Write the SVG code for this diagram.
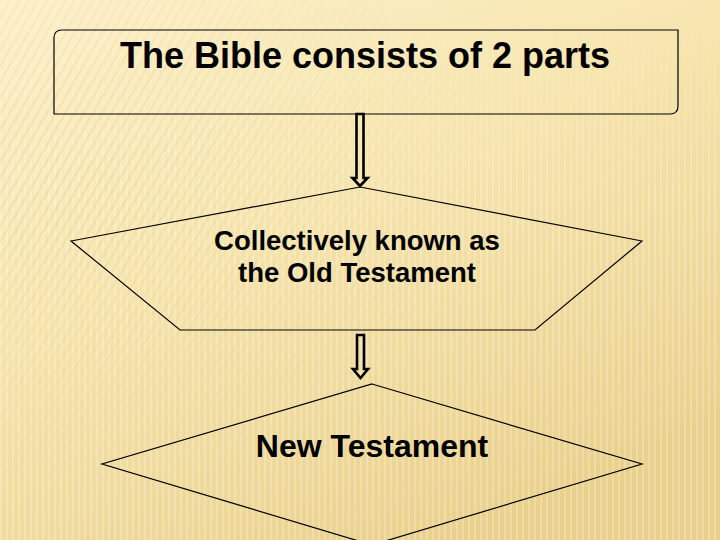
<svg xmlns="http://www.w3.org/2000/svg" width="720" height="540" viewBox="0 0 720 540">
<defs>
<linearGradient id="bg" x1="0" y1="0" x2="0.6" y2="1">
<stop offset="0" stop-color="#fdf1cc"/>
<stop offset="0.45" stop-color="#f7e6b0"/>
<stop offset="1" stop-color="#ead18e"/>
</linearGradient>
<pattern id="vs" width="6" height="10" patternUnits="userSpaceOnUse">
<rect x="0" y="0" width="2" height="10" fill="#ffffff" opacity="0.22"/>
</pattern>
<pattern id="ds" width="8" height="8" patternUnits="userSpaceOnUse" patternTransform="rotate(30)">
<rect x="0" y="0" width="2" height="8" fill="#e6cc86" opacity="0.4"/>
</pattern>
<linearGradient id="fadeV" x1="0" y1="0" x2="0" y2="1">
<stop offset="0" stop-color="#fff" stop-opacity="0"/>
<stop offset="0.35" stop-color="#fff" stop-opacity="1"/>
<stop offset="1" stop-color="#fff" stop-opacity="1"/>
</linearGradient>
<radialGradient id="fadeD" cx="0.1" cy="0.35" r="0.6">
<stop offset="0" stop-color="#fff" stop-opacity="1"/>
<stop offset="1" stop-color="#fff" stop-opacity="0"/>
</radialGradient>
<mask id="mV"><rect width="720" height="540" fill="url(#fadeV)"/></mask>
<mask id="mD"><rect width="720" height="540" fill="url(#fadeD)"/></mask>
<style>
.shape{fill:none;stroke:#000;stroke-width:1.2}
.arrow{fill:none;stroke:#000;stroke-width:2.6;stroke-linejoin:miter}
.t{font-family:"Liberation Sans",Arial,sans-serif;font-weight:bold;fill:#000;text-anchor:middle}
</style>
</defs>
<rect width="720" height="540" fill="url(#bg)"/>
<rect width="720" height="540" fill="url(#vs)" mask="url(#mV)"/>
<rect width="720" height="540" fill="url(#ds)" mask="url(#mD)"/>
<g id="connectors">
<path class="arrow" d="M356.5,114 L363.5,114 L363.5,178 L367.5,178 L360,186 L352.5,178 L356.5,178 Z"/>
<path class="arrow" d="M357,335 L364,335 L364,369 L368,369 L360.5,378 L353,369 L357,369 Z"/>
</g>
<g id="node-bible">
<path class="shape" d="M62,30 L678,30 L678,106 Q678,114 670,114 L54,114 L54,38 Q54,30 62,30 Z"/>
<text class="t" x="365" y="68" font-size="36">The Bible consists of 2 parts</text>
</g>
<g id="node-old">
<polygon class="shape" points="360,187 642,241 535,330 180,330 71,241"/>
<text class="t" x="357" y="250" font-size="27.5">Collectively known as</text>
<text class="t" x="357" y="282" font-size="27.5">the Old Testament</text>
</g>
<g id="node-new">
<polygon class="shape" points="372,384 642,464 372,545 102,464"/>
<text class="t" x="372" y="457" font-size="32">New Testament</text>
</g>
</svg>
